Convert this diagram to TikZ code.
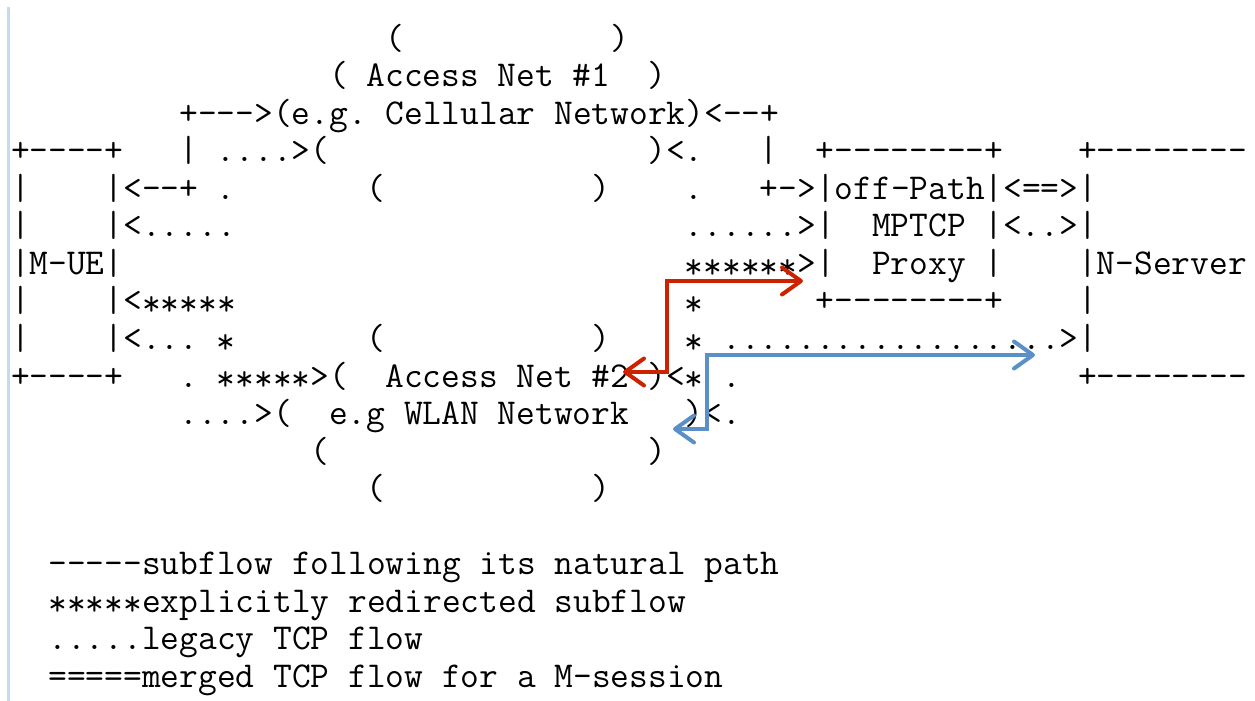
\documentclass[tikz,border=0pt]{standalone}
\usepackage{fontspec}
\setmonofont{Latin Modern Mono}
\usetikzlibrary{arrows.meta}
\definecolor{arrred}{RGB}{204,34,0}
\definecolor{arrblue}{RGB}{90,143,200}
\definecolor{edgeblue}{RGB}{197,217,240}
\newcommand\Sx{\raisebox{-1.8pt}{*}}
\newcommand\Row[3]{\node[asc] (t#2c#1) at ({11+#1*18.72},{49.5+37.5*#2}) {#3};}
\begin{document}
\begin{tikzpicture}[x=0.5pt,y=-0.5pt,
  asc/.style={anchor=base west,inner sep=0pt,outer sep=0pt,
    font=\ttfamily\fontsize{18.2pt}{20pt}\selectfont},
  flowarrow/.style={line width=2pt,
    {Straight Barb[length=9.5pt,width=13.5pt,round]}-{Straight Barb[length=9.5pt,width=13.5pt,round]}}]
\fill[white] (0,0) rectangle (1255,701);
\useasboundingbox (0,0) rectangle (1255,701);
\fill[edgeblue] (7,7) rectangle (10,701);
% row 0-2
\Row{20}{0}{(}
\Row{32}{0}{)}
\Row{17}{1}{( Access Net \#1}
\Row{34}{1}{)}
\Row{9}{2}{+--->(e.g. Cellular Network)<--+}
% row 3
\Row{0}{3}{+----+}
\Row{9}{3}{|}
\Row{11}{3}{....>(}
\Row{34}{3}{)<.}
\Row{40}{3}{|}
\Row{43}{3}{+--------+}
\Row{57}{3}{+--------}
% row 4
\Row{0}{4}{|}
\Row{5}{4}{|<--+}
\Row{11}{4}{.}
\Row{19}{4}{(}
\Row{31}{4}{)}
\Row{36}{4}{.}
\Row{40}{4}{+->|off-Path|<==>|}
% row 5
\Row{0}{5}{|}
\Row{5}{5}{|<.....}
\Row{36}{5}{......>|}
\Row{46}{5}{MPTCP}
\Row{52}{5}{|<..>|}
% row 6
\Row{0}{6}{|M-UE|}
\Row{36}{6}{\Sx\Sx\Sx\Sx\Sx\Sx>|}
\Row{46}{6}{Proxy}
\Row{52}{6}{|}
\Row{57}{6}{|N-Server}
% row 7
\Row{0}{7}{|}
\Row{5}{7}{|<\Sx\Sx\Sx\Sx\Sx}
\Row{36}{7}{\Sx}
\Row{43}{7}{+--------+}
\Row{57}{7}{|}
% row 8
\Row{0}{8}{|}
\Row{5}{8}{|<...}
\Row{11}{8}{\Sx}
\Row{19}{8}{(}
\Row{31}{8}{)}
\Row{36}{8}{\Sx}
\Row{38}{8}{..................>|}
% row 9
\Row{0}{9}{+----+}
\Row{9}{9}{.}
\Row{11}{9}{\Sx\Sx\Sx\Sx\Sx>(}
\Row{20}{9}{Access Net \#2}
\Row{34}{9}{)<\Sx}
\Row{38}{9}{.}
\Row{57}{9}{+--------}
% row 10-12
\Row{9}{10}{....>(}
\Row{17}{10}{e.g WLAN Network}
\Row{36}{10}{)<.}
\Row{16}{11}{(}
\Row{34}{11}{)}
\Row{19}{12}{(}
\Row{31}{12}{)}
% legend
\Row{2}{14}{-----subflow following its natural path}
\Row{2}{15}{\Sx\Sx\Sx\Sx\Sx explicitly redirected subflow}
\Row{2}{16}{.....legacy TCP flow}
\Row{2}{17}{=====merged TCP flow for a M-session}
% overlaid arrows
\coordinate (rA) at (623,372);
\coordinate (rB) at (667,372);
\coordinate (rC) at (667,281);
\coordinate (rD) at (803,281);
\draw[flowarrow,arrred] (rA) -- (rB) -- (rC) -- (rD);
\coordinate (bA) at (673,429);
\coordinate (bB) at (707,429);
\coordinate (bC) at (707,355);
\coordinate (bD) at (1035,355);
\draw[flowarrow,arrblue] (bA) -- (bB) -- (bC) -- (bD);
\end{tikzpicture}
\end{document}
